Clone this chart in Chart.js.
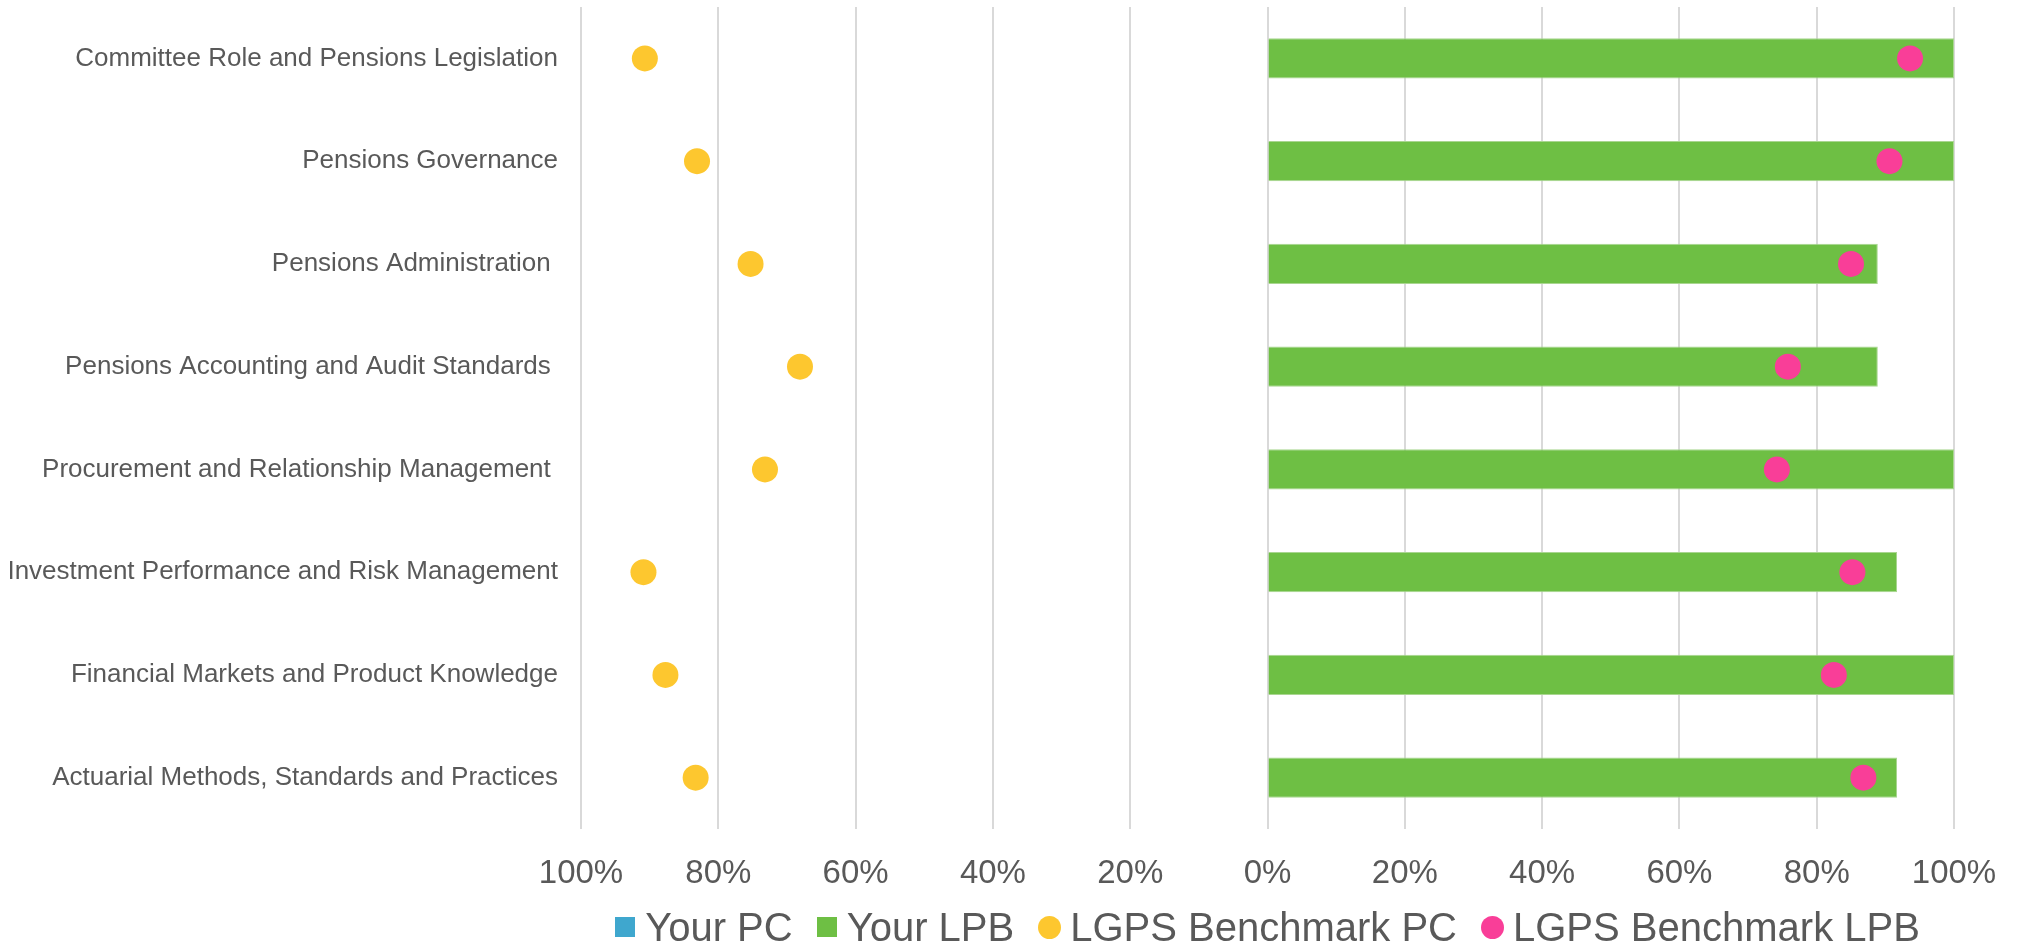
<!DOCTYPE html>
<html>
<head>
<meta charset="utf-8">
<script src="https://cdn.jsdelivr.net/npm/chart.js@4.4.1/dist/chart.umd.min.js"></script>
<style>
  html, body { margin: 0; padding: 0; background: #ffffff; }
  #wrap { position: relative; width: 2028px; height: 946px; }
  #legend {
    position: absolute; left: 581px; width: 1373px; top: 905px; height: 44px;
    display: flex; justify-content: center; align-items: center;
    font-family: "Liberation Sans", Arial, sans-serif; font-size: 40px; color: #595959;
    white-space: nowrap;
  }
  .item { display: flex; align-items: center; margin: 0 12px; }
  .mk { display: inline-block; margin-right: 10px; }
  .sq { width: 20px; height: 20px; }
  .ci { width: 23px; height: 23px; border-radius: 50%; margin-right: 9px; }
</style>
</head>
<body>
<div id="wrap">
  <canvas id="c"></canvas>
  <div id="legend"></div>
</div>
<script>
const categories = [
  "Committee Role and Pensions Legislation",
  "Pensions Governance",
  "Pensions Administration ",
  "Pensions Accounting and Audit Standards ",
  "Procurement and Relationship Management ",
  "Investment Performance and Risk Management",
  "Financial Markets and Product Knowledge",
  "Actuarial Methods, Standards and Practices"
];
const seriesNames = ["Your PC", "Your LPB", "LGPS Benchmark PC", "LGPS Benchmark LPB"];
const yourPC   = [0, 0, 0, 0, 0, 0, 0, 0];
const yourLPB  = [1.0, 1.0, 0.889, 0.889, 1.0, 0.917, 1.0, 0.917];
const benchPC  = [0.907, 0.831, 0.753, 0.681, 0.732, 0.909, 0.877, 0.833];
const benchLPB = [0.936, 0.906, 0.850, 0.758, 0.742, 0.852, 0.825, 0.868];
const tickValues = [-1, -0.8, -0.6, -0.4, -0.2, 0, 0.2, 0.4, 0.6, 0.8, 1];

const colors = ["#3FA7CE", "#6EBF44", "#FDC72F", "#F93E98"];
const FONT = "'Liberation Sans', Arial, sans-serif";
const TXT = "#595959";

const data = {
  labels: categories,
  datasets: [
    { type: 'bar', label: seriesNames[0], data: yourPC.map(v => -v), backgroundColor: colors[0],
      borderWidth: 0, grouped: false, indexAxis: 'y', order: 2,
      categoryPercentage: 0.8, barPercentage: 0.49 },
    { type: 'bar', label: seriesNames[1], data: yourLPB, backgroundColor: colors[1],
      borderColor: '#A9D690', borderWidth: { top: 1, bottom: 1, right: 1, left: 0 },
      grouped: false, indexAxis: 'y', order: 2,
      categoryPercentage: 0.8, barPercentage: 0.49 },
    { type: 'line', label: seriesNames[2], data: benchPC.map(v => -v), indexAxis: 'y', order: 1,
      showLine: false, pointRadius: 13, pointHoverRadius: 13, pointBorderWidth: 0,
      pointBackgroundColor: colors[2], borderColor: colors[2], backgroundColor: colors[2] },
    { type: 'line', label: seriesNames[3], data: benchLPB, indexAxis: 'y', order: 1,
      showLine: false, pointRadius: 13, pointHoverRadius: 13, pointBorderWidth: 0,
      pointBackgroundColor: colors[3], borderColor: colors[3], backgroundColor: colors[3] }
  ]
};

new Chart(document.getElementById('c'), {
  type: 'bar',
  data: data,
  options: {
    indexAxis: 'y',
    responsive: true,
    maintainAspectRatio: false,
    animation: false,
    layout: { autoPadding: false, padding: { left: 10, right: 74, top: 7, bottom: 57 } },
    plugins: { legend: { display: false }, tooltip: { enabled: false } },
    scales: {
      x: {
        type: 'linear', min: -1, max: 1,
        afterBuildTicks: (s) => { s.ticks = tickValues.map(v => ({ value: v })); },
        afterFit: (s) => { s.height = 60; s.paddingLeft = 0; s.paddingRight = 0; },
        grid: { color: '#D9D9D9', lineWidth: 2, drawTicks: false },
        border: { display: false },
        ticks: {
          padding: 25, color: TXT, font: { family: FONT, size: 33 },
          callback: (v) => Math.round(Math.abs(v) * 100) + '%'
        }
      },
      y: {
        type: 'category',
        afterFit: (s) => { s.width = 571; s.paddingTop = 0; s.paddingBottom = 0; },
        grid: { display: false, drawTicks: false },
        border: { display: false },
        ticks: { padding: 23, color: TXT, font: { family: FONT, size: 26 }, autoSkip: false }
      }
    }
  }
});

const lg = document.getElementById('legend');
seriesNames.forEach((name, i) => {
  const it = document.createElement('div');
  it.className = 'item';
  const mk = document.createElement('span');
  mk.className = 'mk ' + (i < 2 ? 'sq' : 'ci');
  mk.style.background = colors[i];
  const tx = document.createElement('span');
  tx.textContent = name;
  it.appendChild(mk); it.appendChild(tx);
  lg.appendChild(it);
});
</script>
</body>
</html>
